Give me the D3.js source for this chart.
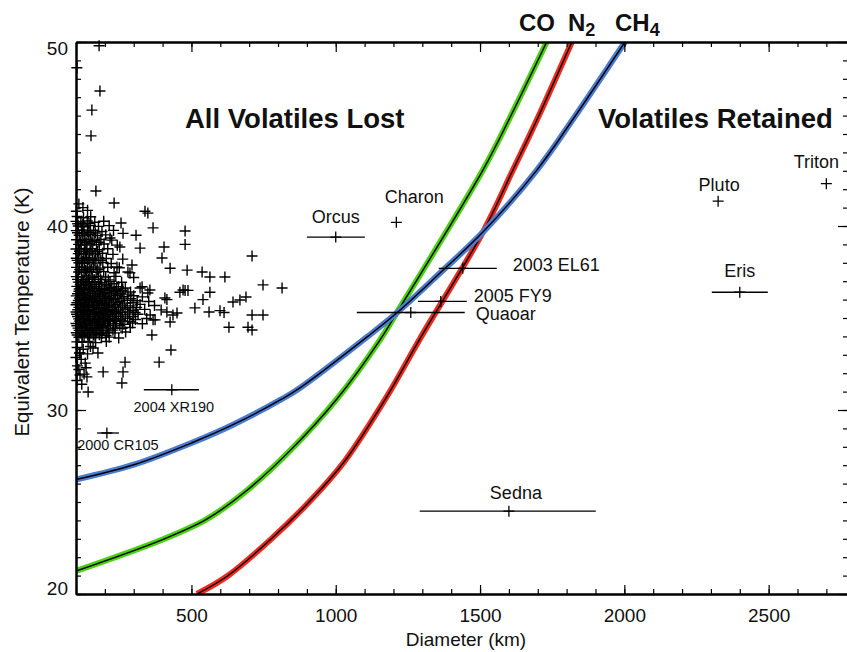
<!DOCTYPE html>
<html>
<head>
<meta charset="utf-8">
<script src="https://cdn.jsdelivr.net/npm/d3@7"></script>
<style>
  body { margin: 0; background: #fff; }
  svg { display: block; font-family: "Liberation Sans", Arial, Helvetica, sans-serif; }
</style>
</head>
<body>
<div id="chart"></div>
<script>
// ---- data ----
// retention curves (diameter km, temperature K)
const coDiam  = [100, 400, 550, 682, 834, 1004, 1153, 1211, 1510, 1603, 1731];
const coTemp  = [21.25, 22.96, 24.04, 25.5, 27.67, 30.6, 33.8, 35.27, 43.04, 45.87, 50];
const n2Diam  = [519, 625, 775, 920, 1030, 1174, 1291, 1510, 1614, 1700, 1818];
const n2Temp  = [20.0, 20.98, 22.97, 25.2, 27.2, 30.65, 33.85, 39.67, 43.04, 45.87, 50];
const ch4Diam = [100, 303, 502, 644, 814, 876, 1111, 1211, 1365, 1510, 1697, 1825, 2002];
const ch4Temp = [26.22, 27.04, 28.22, 29.2, 30.6, 31.2, 34.0, 35.27, 37.5, 39.67, 43.04, 45.87, 50];

// named bodies
const objNames  = ["Orcus", "Charon", "2003 EL61", "2005 FY9", "Quaoar", "Pluto", "Triton", "Eris", "Sedna", "2004 XR190", "2000 CR105"];
const objDiam   = [1000, 1210, 1440, 1364, 1260, 2325, 2700, 2400, 1600, 432, 207];
const objTemp   = [39.4, 40.2, 37.7, 35.9, 35.3, 41.35, 42.3, 36.4, 24.5, 31.1, 28.75];
const objDiamLo = [900, null, 1357, 1285, 1073, null, null, 2303, 1291, 335, 173];
const objDiamHi = [1101, null, 1558, 1454, 1447, null, null, 2497, 1901, 526, 249];

// small KBOs [diameter, temperature]
const kboPoints = [
  [180,49.8],[103,48.6],[183,47.34],[155,46.3],[152,44.9],[169,41.9],[232,41.25],[124,41.0],[339,40.8],[349,40.7],
  [256,40.16],[263,39.6],[308,39.5],[367,39.9],[478,39.73],[478,39.0],[405,38.86],[322,38.8],[398,38.26],[426,37.7],
  [485,37.6],[537,37.5],[564,37.23],[616,37.23],[710,38.37],[748,36.8],[814,36.63],[478,36.5],[460,36.4],[564,36.4],
  [540,36.0],[512,35.55],[561,35.33],[599,35.4],[613,35.3],[644,35.87],[668,35.98],[689,36.14],[710,35.16],[748,35.16],
  [630,34.5],[696,34.5],[710,34.35],[436,35.16],[415,35.33],[367,34.9],[429,33.26],[388,32.6],[270,32.6],[263,32.07],
  [194,32.07],[259,31.47],[142,30.98],[114,31.9],[138,31.8],[135,32.3],[176,33.1],[114,33.1],[159,33.37],[329,36.7],
  [349,36.36],[415,36.0],[450,35.27],[426,34.78],[374,34.9],[363,34.08],[218,39.35],[252,38.86],[294,37.88],[287,37.45],
  [242,37.77],[322,36.63],[356,36.52],[408,36.09],[471,36.52],[488,36.5],
  [110,41.2],[101,40.8],[140,40.85],
  [104,40.52],[126,40.45],[151,40.5],
  [100,40.25],[117,40.22],[139,40.28],[165,40.2],[196,40.26],
  [106,40.12],[124,40.1],[145,40.14],
  [108,40.0],[128,39.96],[150,40.03],[178,39.98],[215,40.02],
  [101,39.75],[119,39.78],[140,39.72],[161,39.77],[190,39.7],[230,39.76],
  [105,39.63],[124,39.6],[145,39.65],[167,39.62],
  [111,39.5],[130,39.47],[151,39.53],[174,39.48],[203,39.52],
  [102,39.25],[121,39.22],[142,39.28],[163,39.21],[186,39.27],[224,39.23],
  [115,39.13],[135,39.1],[156,39.15],[180,39.12],
  [109,39.0],[129,38.97],[149,39.03],[171,38.98],[197,39.02],[243,38.96],
  [100,38.75],[118,38.78],[138,38.72],[158,38.77],[181,38.71],[210,38.76],
  [112,38.63],[132,38.6],[152,38.65],[174,38.62],
  [108,38.5],[127,38.47],[147,38.53],[168,38.48],[192,38.52],[228,38.46],
  [101,38.25],[118,38.22],[136,38.28],[157,38.21],[179,38.27],[205,38.23],[262,38.2],
  [104,38.13],[123,38.1],[142,38.15],[163,38.12],[186,38.14],
  [110,38.0],[129,37.97],[148,38.03],[169,37.98],[193,38.02],[222,37.96],
  [102,37.75],[120,37.78],[139,37.72],[160,37.77],[183,37.71],[210,37.76],[250,37.73],
  [113,37.63],[133,37.6],[153,37.65],[175,37.62],
  [109,37.5],[128,37.47],[148,37.53],[170,37.48],[196,37.52],[232,37.46],[280,37.5],
  [101,37.25],[119,37.22],[137,37.28],[157,37.21],[178,37.27],[203,37.23],[238,37.26],[300,37.2],
  [105,37.1],[124,37.08],[143,37.12],[163,37.09],[185,37.11],[212,37.07],
  [108,36.95],[127,36.98],[146,36.92],[166,36.97],[189,36.93],[218,36.98],[258,36.94],
  [115,36.83],[134,36.85],[156,36.81],[178,36.84],[200,36.82],[232,36.86],
  [103,36.72],[119,36.65],[137,36.75],[152,36.68],[171,36.7],[188,36.62],[206,36.74],[224,36.66],[247,36.7],[271,36.63],
  [111,36.58],[129,36.55],[146,36.6],[163,36.57],[181,36.59],[199,36.56],[218,36.6],[240,36.57],[262,36.59],
  [110,36.45],[128,36.4],[145,36.5],[163,36.42],[180,36.47],[198,36.4],[216,36.5],[236,36.43],[259,36.48],[289,36.41],
  [105,36.32],[123,36.3],[140,36.34],[158,36.31],[175,36.33],[193,36.3],[211,36.35],[231,36.31],[253,36.33],[280,36.3],
  [101,36.2],[117,36.23],[134,36.15],[151,36.22],[168,36.18],[186,36.25],[204,36.16],[223,36.2],[244,36.24],[266,36.17],[300,36.21],[330,36.15],
  [112,36.07],[130,36.05],[147,36.09],[164,36.06],[181,36.08],[199,36.04],[217,36.09],[237,36.06],[259,36.08],[290,36.05],
  [108,35.95],[125,35.98],[142,35.92],[159,35.97],[176,35.9],[193,35.96],[211,35.93],[230,35.99],[252,35.91],[278,35.96],[312,35.94],[352,35.9],
  [103,35.83],[120,35.81],[137,35.85],[154,35.82],[171,35.84],[188,35.8],[205,35.85],[224,35.82],[245,35.84],[268,35.81],[298,35.83],
  [100,35.72],[115,35.68],[131,35.74],[148,35.66],[165,35.71],[182,35.69],[199,35.75],[217,35.67],[238,35.72],[261,35.7],[288,35.66],[322,35.74],[372,35.68],
  [110,35.58],[127,35.56],[144,35.6],[161,35.57],[178,35.59],[195,35.55],[213,35.6],[232,35.57],[254,35.59],[278,35.56],[310,35.58],
  [106,35.45],[122,35.48],[139,35.42],[156,35.47],[172,35.44],[190,35.5],[207,35.41],[226,35.46],[247,35.43],[270,35.48],[298,35.42],[338,35.47],[395,35.44],
  [100,35.33],[114,35.31],[130,35.35],[147,35.32],[163,35.34],[180,35.3],[197,35.35],[214,35.32],[234,35.34],[255,35.31],[279,35.33],[305,35.3],
  [102,35.2],[118,35.17],[135,35.23],[151,35.19],[168,35.24],[185,35.16],[202,35.22],[220,35.18],[240,35.25],[262,35.17],[286,35.21],[315,35.2],[357,35.16],
  [105,35.08],[123,35.06],[140,35.1],[157,35.07],[174,35.09],[191,35.05],[208,35.1],[227,35.07],[248,35.09],[271,35.06],[298,35.08],
  [109,34.95],[126,34.98],[143,34.92],[160,34.97],[177,34.93],[195,34.99],[213,34.91],[233,34.96],[255,34.94],[279,34.98],[306,34.92],[345,34.97],
  [112,34.83],[129,34.81],[146,34.85],[163,34.82],[181,34.84],[198,34.8],[217,34.85],[238,34.82],[260,34.84],[286,34.81],
  [100,34.7],[116,34.67],[133,34.73],[150,34.69],[166,34.74],[184,34.66],[201,34.72],[219,34.68],[241,34.71],[266,34.66],[296,34.73],[330,34.69],
  [103,34.58],[120,34.56],[137,34.6],[155,34.57],[172,34.59],[190,34.55],[209,34.6],[229,34.57],[252,34.59],
  [107,34.45],[124,34.48],[141,34.42],[158,34.47],[176,34.43],[194,34.49],[214,34.41],[236,34.46],[260,34.44],[288,34.48],
  [111,34.33],[129,34.31],[147,34.35],[166,34.32],[186,34.34],[206,34.3],[228,34.34],
  [101,34.2],[117,34.17],[134,34.23],[152,34.18],[170,34.22],[190,34.16],[211,34.21],[235,34.19],[272,34.24],
  [104,34.08],[122,34.06],[141,34.1],[160,34.07],[181,34.09],[204,34.05],
  [110,33.95],[128,33.98],[147,33.92],[166,33.97],[188,33.93],[215,33.96],[248,33.91],
  [103,33.7],[121,33.68],[142,33.73],[168,33.66],[205,33.72],
  [104,33.4],[125,33.3],[150,33.45],[112,33.1],[140,33.05],[100,32.85],[118,32.75],[132,32.55],[105,32.4],[110,32.2],
  [128,31.95],[103,31.6],[120,31.4]
];

const xTicks = [500, 1000, 1500, 2000, 2500];
const yTicks = [20, 30, 40, 50];

// ---- layout ----
const W = 847, H = 652;
const pLeft = 76, pTop = 42, pRight = 848, pBottom = 594;

const svg = d3.select("#chart").append("svg")
    .attr("width", W).attr("height", H);

const x = d3.scaleLinear().domain([100, 2775]).range([pLeft, pRight]);
const y = d3.scaleLinear().domain([20, 50]).range([pBottom, pTop]);

svg.append("clipPath").attr("id", "plot")
  .append("rect").attr("x", pLeft).attr("y", pTop)
  .attr("width", pRight - pLeft).attr("height", pBottom - pTop);

// curves: coloured band with a thin black core
const curves = [
  {d: coDiam, t: coTemp, color: "#4bd012"},
  {d: n2Diam, t: n2Temp, color: "#ec2a1e"},
  {d: ch4Diam, t: ch4Temp, color: "#4a7bcf"}
];
const line = d3.line().x(p => x(p[0])).y(p => y(p[1])).curve(d3.curveCatmullRom.alpha(0.5));
const gc = svg.append("g").attr("clip-path", "url(#plot)");
curves.forEach(c => {
  const pts = c.d.map((v, i) => [v, c.t[i]]);
  gc.append("path").attr("d", line(pts)).attr("fill", "none")
    .attr("stroke", c.color).attr("stroke-width", 6).attr("stroke-linejoin", "round");
  gc.append("path").attr("d", line(pts)).attr("fill", "none")
    .attr("stroke", "#000").attr("stroke-width", 1.4);
});

// small KBOs
const plus = "M-5.5,0H5.5M0,-5.5V5.5";
svg.append("g").selectAll("path").data(kboPoints).join("path")
  .attr("transform", d => `translate(${x(d[0])},${y(d[1])})`)
  .attr("d", plus).attr("stroke", "#000").attr("stroke-width", 1.4).attr("fill", "none");

// named objects with error bars
const objs = objNames.map((n, i) => ({name: n, d: objDiam[i], t: objTemp[i], lo: objDiamLo[i], hi: objDiamHi[i]}));
const go = svg.append("g");
go.selectAll("line.err").data(objs.filter(o => o.lo !== null)).join("line")
  .attr("x1", o => x(o.lo)).attr("x2", o => x(o.hi))
  .attr("y1", o => y(o.t)).attr("y2", o => y(o.t))
  .attr("stroke", "#000").attr("stroke-width", 1.3);
go.selectAll("path").data(objs).join("path")
  .attr("transform", o => `translate(${x(o.d)},${y(o.t)})`)
  .attr("d", plus).attr("stroke", "#000").attr("stroke-width", 1.3).attr("fill", "none");

// label placement (pixels relative to marker, or bar end)
const labelPos = {
  "Orcus":      {dx: 0,  dy: -14, anchor: "middle", size: 18},
  "Charon":     {dx: 18, dy: -19, anchor: "middle", size: 18},
  "2003 EL61":  {dx: 16, dy: 3,   anchor: "start",  size: 18, fromHi: true},
  "2005 FY9":   {dx: 7,  dy: 1,   anchor: "start",  size: 18, fromHi: true},
  "Quaoar":     {dx: 11, dy: 8,   anchor: "start",  size: 18, fromHi: true},
  "Pluto":      {dx: 1,  dy: -10, anchor: "middle", size: 18},
  "Triton":     {dx: -10, dy: -16, anchor: "middle", size: 18},
  "Eris":       {dx: 0,  dy: -15, anchor: "middle", size: 18},
  "Sedna":      {dx: 7,  dy: -12, anchor: "middle", size: 18},
  "2004 XR190": {dx: 2,  dy: 22,  anchor: "middle", size: 14.5},
  "2000 CR105": {dx: 11, dy: 17,  anchor: "middle", size: 14.5}
};
go.selectAll("text").data(objs).join("text")
  .attr("x", o => (labelPos[o.name].fromHi ? x(o.hi) : x(o.d)) + labelPos[o.name].dx)
  .attr("y", o => y(o.t) + labelPos[o.name].dy)
  .attr("text-anchor", o => labelPos[o.name].anchor)
  .attr("font-size", o => labelPos[o.name].size)
  .attr("fill", "#111")
  .text(o => o.name);

// axes (ticks point inward)
const minorX = d3.range(100, 2776, 100);
const minorY = d3.range(20, 51, 1);
function styleAxis(g) {
  g.select(".domain").attr("stroke-width", 2);
  g.selectAll(".tick line").attr("stroke-width", 1.2);
}
svg.append("g").attr("transform", `translate(0,${pBottom})`)
  .call(d3.axisBottom(x).tickValues(minorX).tickSize(-5).tickSizeOuter(0).tickFormat(""))
  .call(styleAxis);
svg.append("g").attr("transform", `translate(0,${pBottom})`)
  .call(d3.axisBottom(x).tickValues(xTicks).tickSize(-9).tickSizeOuter(0).tickPadding(15).tickFormat(d3.format("d")))
  .call(styleAxis)
  .call(g => g.selectAll("text").attr("font-size", 19).attr("fill", "#111"));
svg.append("g").attr("transform", `translate(0,${pTop})`)
  .call(d3.axisTop(x).tickValues(minorX).tickSize(-5).tickSizeOuter(0).tickFormat(""))
  .call(styleAxis);
svg.append("g").attr("transform", `translate(0,${pTop})`)
  .call(d3.axisTop(x).tickValues(xTicks).tickSize(-10).tickSizeOuter(0).tickFormat(""))
  .call(styleAxis);
svg.append("g").attr("transform", `translate(${pLeft},0)`)
  .call(d3.axisLeft(y).tickValues(minorY).tickSize(-5).tickSizeOuter(0).tickFormat(""))
  .call(styleAxis);
svg.append("g").attr("transform", `translate(${pLeft},0)`)
  .call(d3.axisLeft(y).tickValues(yTicks).tickSize(-10).tickSizeOuter(0).tickPadding(8))
  .call(styleAxis)
  .call(g => g.selectAll("text").attr("font-size", 19).attr("fill", "#111")
    .attr("dy", d => d === 50 ? "0.68em" : d === 20 ? "0.05em" : "0.36em"));
svg.append("g").attr("transform", `translate(${pRight},0)`)
  .call(d3.axisRight(y).tickValues(minorY).tickSize(-5).tickSizeOuter(0).tickFormat(""))
  .call(styleAxis);
svg.append("g").attr("transform", `translate(${pRight},0)`)
  .call(d3.axisRight(y).tickValues(yTicks).tickSize(-10).tickSizeOuter(0).tickFormat(""))
  .call(styleAxis);
svg.selectAll(".tick text").attr("font-family", null);

// axis titles
svg.append("text").attr("x", 466).attr("y", 646).attr("text-anchor", "middle")
  .attr("font-size", 19).attr("fill", "#111").text("Diameter (km)");
svg.append("text").attr("transform", "translate(29,312) rotate(-90)").attr("text-anchor", "middle")
  .attr("font-size", 20.5).attr("fill", "#111").text("Equivalent Temperature (K)");

// region labels
svg.append("text").attr("x", 185).attr("y", 128).attr("font-size", 27.5).attr("font-weight", "bold")
  .attr("fill", "#111").text("All Volatiles Lost");
svg.append("text").attr("x", 598).attr("y", 128).attr("font-size", 27.5).attr("font-weight", "bold")
  .attr("fill", "#111").text("Volatiles Retained");

// species labels
const spec = svg.append("g").attr("font-size", 24).attr("font-weight", "bold").attr("fill", "#111");
spec.append("text").attr("x", 519).attr("y", 31).text("CO");
const n2 = spec.append("text").attr("x", 568).attr("y", 31);
n2.append("tspan").text("N");
n2.append("tspan").attr("dy", 5).attr("font-size", 18).text("2");
const ch4 = spec.append("text").attr("x", 615).attr("y", 31);
ch4.append("tspan").text("CH");
ch4.append("tspan").attr("dy", 5).attr("font-size", 18).text("4");
</script>
</body>
</html>
